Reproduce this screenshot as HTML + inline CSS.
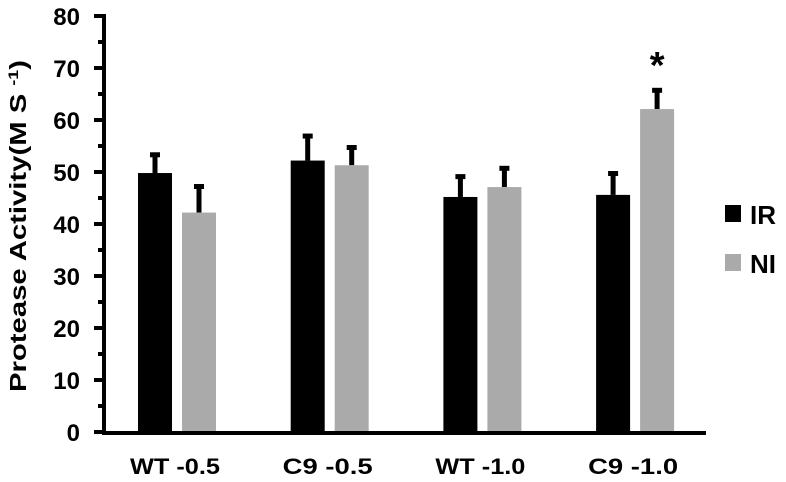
<!DOCTYPE html>
<html><head><meta charset="utf-8"><style>
body{margin:0;background:#fff}
svg{display:block;font-family:"Liberation Sans",Arial,sans-serif;font-weight:bold}
</style></head><body>
<svg width="786" height="482" viewBox="0 0 786 482">
<g id="g"></g>
</svg>
<script>
const categories=["WT -0.5","C9 -0.5","WT -1.0","C9 -1.0"];
const irValues=[49.8,52.2,45.2,45.6];
const irErrors=[53.6,57.2,49.4,50.0];
const niValues=[42.2,51.3,47.1,62.1];
const niErrors=[47.5,55.0,51.0,66.0];
const yTicks=[0,10,20,30,40,50,60,70,80];
const NS="http://www.w3.org/2000/svg";
const g=document.getElementById('g');
const y0=432,pxPer=5.2,axisX=104;
function yS(v){return y0-v*pxPer;}
function xS(i){return 138+i*152.7;}
function mk(t,a,txt){const e=document.createElementNS(NS,t);for(const k in a)e.setAttribute(k,a[k]);if(txt!==undefined)e.textContent=txt;g.appendChild(e);return e;}
for(let v=0;v<=80;v+=5){
  const major=v%10===0;
  const t=mk('rect',{x:major?94:98,y:yS(v)-2,width:major?10:6,height:4,fill:'#000'});
  
  
}
yTicks.forEach(v=>{
  const t=mk('text',{x:80,y:yS(v)+9,'text-anchor':'end','font-size':24,fill:'#000'},String(v));
  
  
});
categories.forEach((c,i)=>{
  const x=xS(i);
  const bw=34;
  [[irValues[i],irErrors[i],'#000',x,'ir'],[niValues[i],niErrors[i],'#aaa',x+44,'ni']].forEach(([v,e,col,bx,s])=>{
    const eb=mk('rect',{x:bx+bw/2-2.5,y:yS(e),width:5,height:yS(v)-yS(e),fill:'#000'});
    
    
    const cap=mk('rect',{x:bx+bw/2-5,y:yS(e)-1,width:10,height:5,fill:'#000'});
    
    
    const b=mk('rect',{x:bx,y:yS(v),width:bw,height:y0-yS(v),fill:col});
    
    
  });
  const l=mk('text',{x:x+37-45,y:474,'font-size':22,fill:'#000',textLength:90,lengthAdjust:'spacingAndGlyphs'},c);
  
  
});
const ya=mk('rect',{x:axisX-2,y:14,width:4,height:y0-12,fill:'#000'});


const xa=mk('rect',{x:axisX-2,y:y0-1,width:604,height:4,fill:'#000'});


const st=mk('text',{x:xS(3)+61,y:78,'text-anchor':'middle','font-size':38,fill:'#000'},'*');


const yt=mk('text',{x:0,y:0,'font-size':23,fill:'#000',transform:'translate(26,392) rotate(-90)',textLength:332,lengthAdjust:'spacingAndGlyphs'},'Protease Activity(M S ');


const sup=document.createElementNS(NS,'tspan');sup.setAttribute('dy','-8');sup.setAttribute('font-size','14');sup.textContent='-1';yt.appendChild(sup);
const sup2=document.createElementNS(NS,'tspan');sup2.setAttribute('dy','8');sup2.textContent=')';yt.appendChild(sup2);
[['IR','#000',205],['NI','#aaa',254]].forEach(([n,c,yy])=>{
  const s=mk('rect',{x:725,y:yy,width:16,height:17,fill:c});
  
  
  const t=mk('text',{x:750,y:yy+19,'font-size':26,fill:'#000'},n);
  
  
});
</script>
</body></html>
